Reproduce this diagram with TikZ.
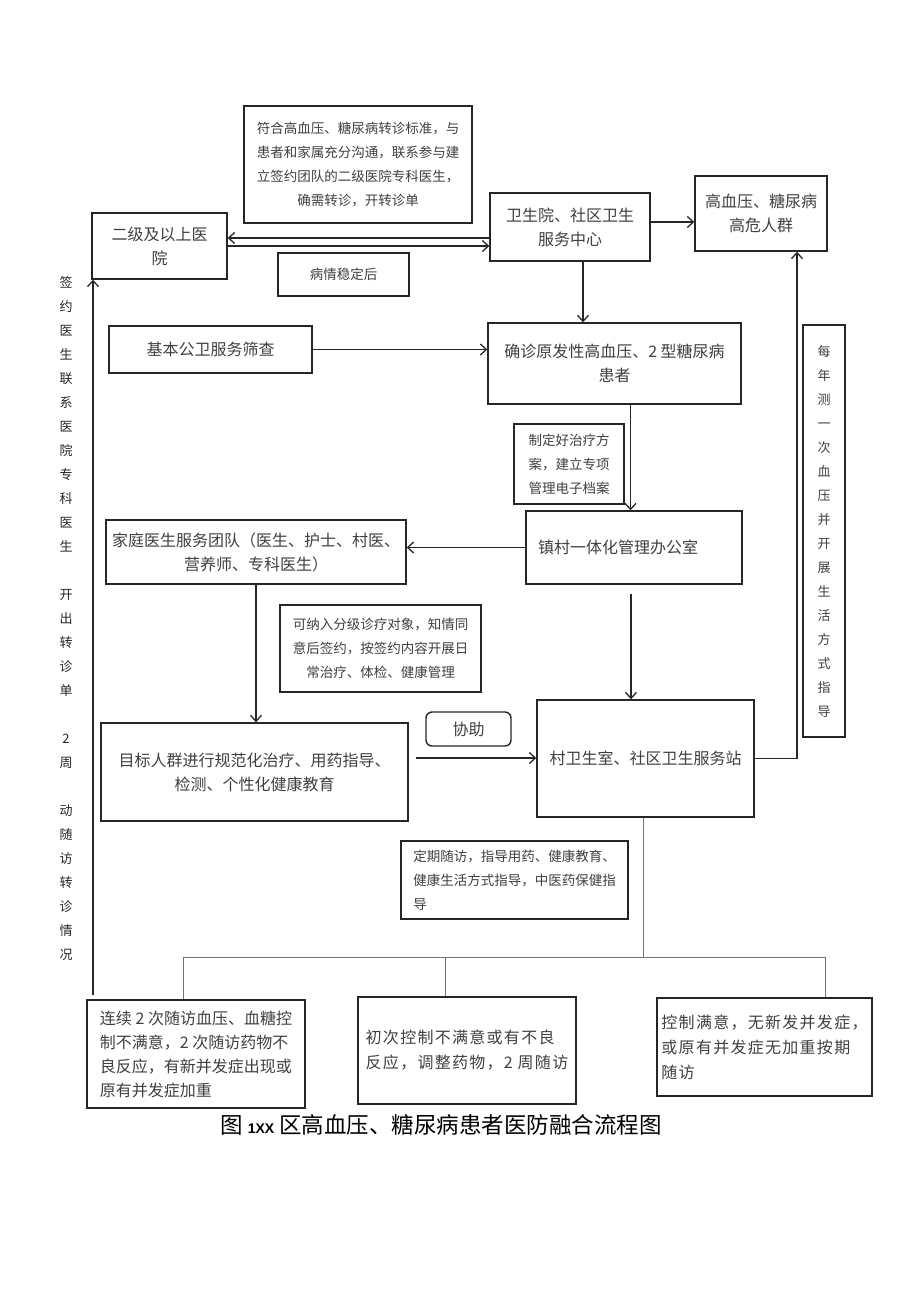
\documentclass[tikz,border=0pt]{standalone}
\usepackage{fontspec}
\setmainfont{Noto Sans CJK SC}
\newfontfamily\capfont{Liberation Sans}
\usetikzlibrary{arrows.meta,calc}
\begin{document}
\begin{tikzpicture}[x=1pt,y=-1pt,
  box/.style={draw=black!85,line width=1.4pt,text=black!75,align=center,inner sep=4pt},
  bigf/.style={font=\fontsize{16}{24}\selectfont},
  smallf/.style={font=\fontsize{13.5}{24}\selectfont},
  spaced/.style={font=\fontsize{16}{25}\selectfont\addfontfeatures{LetterSpace=8}},
  vert/.style={font=\fontsize{13}{24}\selectfont,align=center,inner sep=0pt},
  arr/.style={draw=black!85,line width=1.3pt,-{Straight Barb[length=6pt,width=11pt,line width=1.3pt]}},
  thinline/.style={draw=black!55,line width=0.9pt},
]
\useasboundingbox[fill=white] (0,0) rectangle (920,1301);

% boxes
\node[box,smallf,minimum width=228pt,minimum height=117pt] (crit) at (358,164.5) {符合高血压、糖尿病转诊标准，与\\患者和家属充分沟通，联系参与建\\立签约团队的二级医院专科医生，\\确需转诊，开转诊单};
\node[box,bigf,minimum width=135pt,minimum height=66pt] (hosp) at (159.5,246) {二级及以上医\\院};
\node[box,smallf,minimum width=131pt,minimum height=43pt] (stable) at (343.5,274.5) {病情稳定后};
\node[box,bigf,minimum width=160pt,minimum height=68pt] (wsy) at (570,227) {卫生院、社区卫生\\服务中心};
\node[box,bigf,minimum width=132pt,minimum height=75pt] (risk) at (761,213.5) {高血压、糖尿病\\高危人群};
\node[box,bigf,minimum width=203pt,minimum height=47pt] (screen) at (210.5,349.5) {基本公卫服务筛查};
\node[box,bigf,minimum width=253pt,minimum height=81pt] (diag) at (614.5,363.5) {确诊原发性高血压、2 型糖尿病\\患者};
\node[box,smallf,align=left,minimum width=110pt,minimum height=80pt] (plan) at (569,464) {制定好治疗方\\案，建立专项\\管理电子档案};
\node[box,bigf,align=left,text width=192pt,inner xsep=12pt,minimum height=73pt] (office) at (634,547.5) {镇村一体化管理办公室};
\node[box,bigf,minimum width=300pt,minimum height=64pt,inner xsep=2pt] (family) at (256,552) {家庭医生服务团队（医生、护士、村医、\\营养师、专科医生）};
\node[box,smallf,minimum width=201pt,minimum height=87pt] (sign) at (380.5,648.5) {可纳入分级诊疗对象，知情同\\意后签约，按签约内容开展日\\常治疗、体检、健康管理};
\node[box,bigf,minimum width=307pt,minimum height=98pt] (target) at (254.5,772) {目标人群进行规范化治疗、用药指导、\\检测、个性化健康教育};
\node[box,bigf,rounded corners=6pt,minimum width=85pt,minimum height=34pt] (help) at (468.5,729) {协助};
\node[box,bigf,minimum width=217pt,minimum height=117pt] (village) at (645.5,758.5) {村卫生室、社区卫生服务站};
\node[box,smallf,align=left,minimum width=227pt,minimum height=78pt] (follow) at (514.5,880) {定期随访，指导用药、健康教育、\\健康生活方式指导，中医药保健指\\导};
\node[box,bigf,align=left,minimum width=218pt,minimum height=108pt] (out1) at (196,1054) {连续 2 次随访血压、血糖控\\制不满意，2 次随访药物不\\良反应，有新并发症出现或\\原有并发症加重};
\node[box,spaced,align=left,minimum width=218pt,minimum height=107pt] (out2) at (467,1050.5) {初次控制不满意或有不良\\反应，调整药物，2 周随访};
\node[box,spaced,align=left,minimum width=215pt,minimum height=98pt] (out3) at (764.5,1047) {控制满意，无新发并发症，\\或原有并发症无加重按期\\随访};
\node[box,vert,minimum width=42pt,minimum height=412pt] (yearly) at (824,531) {每\\年\\测\\一\\次\\血\\压\\并\\开\\展\\生\\活\\方\\式\\指\\导};

% left vertical text
\node[vert,text=black!85] (side) at (66,619) {签\\约\\医\\生\\联\\系\\医\\院\\专\\科\\医\\生\\\mbox{}\\开\\出\\转\\诊\\单\\\mbox{}\\2\\周\\\mbox{}\\动\\随\\访\\转\\诊\\情\\况};

% caption
\node[font=\fontsize{22.5}{26}\selectfont,text=black] (cap) at (441,1125) {图 {\capfont\bfseries\fontsize{14}{16}\selectfont 1XX} 区高血压、糖尿病患者医防融合流程图};

% connectors
\coordinate (a1) at ($(wsy.west)+(0,11)$);
\draw[arr] (a1) -- (a1 -| hosp.east);
\draw[arr] (hosp.east) -- (hosp.east -| wsy.west);
\coordinate (a2) at ($(wsy.east)+(0,-5)$);
\draw[arr] (a2) -- (a2 -| risk.west);
\coordinate (a3) at ($(wsy.south)+(13,0)$);
\draw[arr] (a3) -- (a3 |- diag.north);
\draw[arr] (screen.east) -- (screen.east -| diag.west);
\coordinate (a4) at ($(diag.south)+(16,0)$);
\draw[arr] (a4) -- (a4 |- office.north);
\draw[arr] (office.west) -- (office.west -| family.east);
\coordinate (a5) at ($(office.south)+(-3,9)$);
\draw[arr] (a5) -- (a5 |- village.north);
\draw[arr] (family.south) -- (family.south |- target.north);
\coordinate (a6) at ($(target.east)+(7,-14)$);
\draw[arr] (a6) -- (a6 -| village.west);
\coordinate (a7) at ($(risk.south)+(36,0)$);
\draw[arr] (village.east) -| (a7);
\coordinate (lb) at (93,995);
\draw[arr] (lb) -- (lb |- hosp.south);

% bottom bus
\coordinate (vs) at ($(village.south)+(-2,0)$);
\coordinate (busL) at (183,957);
\coordinate (busR) at (825,957);
\coordinate (b2) at (445,957);
\draw[thinline] (vs) -- (vs |- busL);
\draw[thinline] (busL |- out1.north) -- (busL) -- (busR) -- (busR |- out3.north);
\draw[thinline] (b2) -- (b2 |- out2.north);
\end{tikzpicture}
\end{document}
